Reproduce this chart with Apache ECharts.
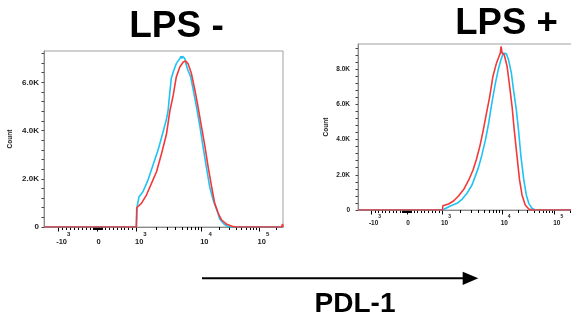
<!DOCTYPE html>
<html>
<head>
<meta charset="utf-8">
<script src="https://cdn.jsdelivr.net/npm/echarts@6/dist/echarts.min.js"></script>
<style>
  html, body { margin: 0; padding: 0; background: #fff; }
  #chart { width: 571px; height: 322px; }
</style>
</head>
<body>
<div id="chart"></div>
<script>
// x is in display (biexponential) units: 0 = 0, 1 = 10^3, decades above that
const XMIN = -1.38, XMAX = 4.78;

const xTickPos = [-1, 0, 1, 2.68, 4.16];
const xTickBase = ['-10', '0', '10', '10', '10'];
const xTickExp = ['3', '', '3', '4', '5'];

// LPS - panel
const negBlueX = [-1.38, 1.00, 1.02, 1.07, 1.17, 1.30, 1.43, 1.56, 1.69, 1.78, 1.82, 1.86, 1.90, 1.95, 2.03, 2.08, 2.12, 2.15, 2.17, 2.19, 2.22, 2.25, 2.29, 2.33, 2.40, 2.46, 2.55, 2.64, 2.72, 2.81, 2.89, 2.98, 3.07, 3.15, 3.24, 3.33, 3.41, 4.78];
const negBlueY = [0, 0, 842, 1256, 1463, 1946, 2567, 3189, 3948, 4500, 4850, 5535, 6156, 6432, 6777, 6900, 6984, 7080, 6990, 7080, 7000, 6984, 6700, 6501, 6225, 5742, 4983, 4155, 3327, 2429, 1670, 1118, 732, 331, 152, 41, 0, 0];
const negRedX = [-1.38, 1.00, 1.01, 1.13, 1.26, 1.39, 1.52, 1.65, 1.78, 1.86, 1.95, 2.03, 2.12, 2.21, 2.27, 2.33, 2.42, 2.51, 2.59, 2.68, 2.77, 2.85, 2.94, 3.02, 3.11, 3.20, 3.33, 3.50, 3.60, 4.74, 4.77, 4.78];
const negRedY = [0, 0, 800, 980, 1325, 1808, 2291, 3051, 3879, 4776, 5466, 6225, 6639, 6846, 6888, 6777, 6363, 5673, 4983, 4155, 3327, 2498, 1670, 980, 566, 290, 110, 14, 0, 0, 120, 0];

// LPS + panel
const posBlueX = [-1.38, 1.00, 1.05, 1.22, 1.41, 1.55, 1.69, 1.83, 1.92, 2.02, 2.11, 2.21, 2.30, 2.39, 2.49, 2.58, 2.66, 2.72, 2.80, 2.86, 2.94, 3.00, 3.08, 3.15, 3.21, 3.29, 3.36, 3.43, 3.52, 3.61, 4.78];
const posBlueY = [0, 0, 95, 227, 379, 606, 947, 1420, 1894, 2462, 3125, 3977, 4924, 6061, 7197, 8049, 8618, 8902, 8864, 8523, 7765, 6818, 5682, 4356, 3030, 1705, 852, 379, 95, 0, 0];
const posRedX = [-1.38, 1.00, 1.01, 1.17, 1.31, 1.45, 1.60, 1.74, 1.86, 1.95, 2.05, 2.14, 2.23, 2.33, 2.42, 2.52, 2.59, 2.63, 2.65, 2.68, 2.74, 2.82, 2.88, 2.96, 3.02, 3.10, 3.17, 3.24, 3.33, 3.43, 3.52, 4.78];
const posRedY = [0, 0, 240, 341, 511, 795, 1174, 1705, 2273, 2841, 3598, 4451, 5398, 6439, 7576, 8333, 8712, 8900, 9281, 8902, 8807, 8144, 7197, 5871, 4546, 3030, 1705, 852, 284, 57, 0, 0];

const yTicksNeg = [0, 2000, 4000, 6000];
const yTicksPos = [0, 2000, 4000, 6000, 8000];
const YMAX_NEG = 7300, YMAX_POS = 9420;

const FONT = '"Liberation Sans", Arial, sans-serif';
const BLUE = '#1fc3f3', RED = '#f23a3a';

// minor ticks: linear part every 100, dense cluster round 0, log steps per decade
function minorTicks() {
  const t = [];
  for (let i = -10; i <= 10; i++) t.push(i / 10);
  for (let i = -6; i <= 6; i++) t.push(i * 0.02);
  for (let m = 2; m <= 9; m++) t.push(1 + 1.68 * Math.log10(m));
  for (let m = 2; m <= 9; m++) t.push(2.68 + 1.48 * Math.log10(m));
  t.push(4.16 + 1.48 * Math.log10(2));
  return t;
}
function stepTicks(max, step) {
  const t = [];
  for (let v = 0; v <= max; v += step) t.push(v);
  return t;
}
const zip = (xs, ys) => xs.map((x, i) => [x, ys[i]]);

function xLabel(v) {
  const i = xTickPos.findIndex(p => Math.abs(p - v) < 1e-6);
  if (i < 0) return '';
  if (!xTickExp[i]) return `{q| }{b|${xTickBase[i]}}`;
  return `{p| }{b|${xTickBase[i]}}{s|${xTickExp[i]}}`;
}
function yLabel(v) {
  return v === 0 ? '0' : (v / 1000).toFixed(1) + 'K';
}

function xAxes(gridIndex, big) {
  const lh = big ? 15 : 12;
  const minor = minorTicks();
  return [{
    type: 'value', gridIndex, min: XMIN, max: XMAX, position: 'bottom',
    axisLine: { show: false, onZero: false },
    splitLine: { show: false },
    axisLabel: { show: true, customValues: minor, formatter: () => '', fontSize: 1 },
    axisTick: { show: true, customValues: minor, length: 3, lineStyle: { color: '#000', width: 1 } }
  }, {
    type: 'value', gridIndex, min: XMIN, max: XMAX, position: 'bottom',
    axisLine: { show: true, onZero: false, lineStyle: { color: '#8a8a8a', width: 1 } },
    splitLine: { show: false },
    axisTick: { customValues: xTickPos, length: 4.5, lineStyle: { color: '#000' } },
    axisLabel: {
      customValues: xTickPos, formatter: xLabel, margin: big ? 4 : 4.5,
      rich: {
        p: { width: big ? 9 : 7, lineHeight: lh, fontSize: 1 },
        q: { width: 2, lineHeight: lh, fontSize: 1 },
        b: { fontFamily: FONT, fontSize: big ? 7.5 : 6.5, fontWeight: 'bold', color: '#222', verticalAlign: 'bottom' },
        s: { fontFamily: FONT, fontSize: big ? 6 : 5, fontWeight: 'bold', color: '#222', verticalAlign: 'top' }
      }
    }
  }];
}

function yAxis(gridIndex, max, ticks, big) {
  return {
    type: 'value', gridIndex, min: 0, max, position: 'left',
    name: 'Count', nameLocation: 'middle', nameRotate: 90, nameGap: big ? 30.5 : 28,
    nameTextStyle: { fontFamily: FONT, fontSize: 6.5, fontWeight: 'bold', color: '#222' },
    axisLine: { show: true, onZero: false, lineStyle: { color: '#8a8a8a', width: 1 } },
    splitLine: { show: false },
    axisTick: { customValues: stepTicks(max, 400), length: 2.5, lineStyle: { color: '#444' } },
    axisLabel: {
      customValues: ticks, formatter: yLabel, margin: big ? 5 : 8,
      fontFamily: FONT, fontSize: big ? 8 : 6.5, fontWeight: 'bold', color: '#222'
    }
  };
}

function line(xIdx, yIdx, xs, ys, color) {
  return {
    type: 'line', xAxisIndex: xIdx, yAxisIndex: yIdx, data: zip(xs, ys),
    showSymbol: false, symbol: 'none', smooth: false, clip: true, silent: true,
    lineStyle: { color, width: 1.6 }, animation: false
  };
}

const chart = echarts.init(document.getElementById('chart'), null, { renderer: 'canvas' });
chart.setOption({
  animation: false,
  backgroundColor: '#fff',
  grid: [
    { left: 44, top: 51, width: 239, height: 176, show: true, borderColor: '#a0a0a0', borderWidth: 1, containLabel: false, outerBoundsMode: 'none' },
    { left: 358, top: 44, width: 218.7, height: 166, show: true, borderColor: '#a0a0a0', borderWidth: 1, containLabel: false, outerBoundsMode: 'none' }
  ],
  xAxis: [...xAxes(0, true), ...xAxes(1, false)],
  yAxis: [yAxis(0, YMAX_NEG, yTicksNeg, true), yAxis(1, YMAX_POS, yTicksPos, false)],
  series: [
    line(1, 0, negBlueX, negBlueY, BLUE),
    line(1, 0, negRedX, negRedY, RED),
    line(3, 1, posBlueX, posBlueY, BLUE),
    line(3, 1, posRedX, posRedY, RED)
  ],
  graphic: [
    { type: 'text', x: 176.5, y: 27, style: { text: 'LPS -', font: 'bold 37px ' + FONT, fill: '#000', align: 'center', verticalAlign: 'middle' } },
    { type: 'text', x: 506.5, y: 23.5, style: { text: 'LPS +', font: 'bold 36.5px ' + FONT, fill: '#000', align: 'center', verticalAlign: 'middle' } },
    { type: 'line', shape: { x1: 202, y1: 278.3, x2: 466, y2: 278.3 }, style: { stroke: '#000', lineWidth: 2 } },
    { type: 'polygon', shape: { points: [[462.7, 271.7], [478.3, 278.3], [462.7, 285]] }, style: { fill: '#000' } },
    { type: 'text', x: 355, y: 304, style: { text: 'PDL-1', font: 'bold 28px ' + FONT, fill: '#000', align: 'center', verticalAlign: 'middle' } }
  ]
});
</script>
</body>
</html>
